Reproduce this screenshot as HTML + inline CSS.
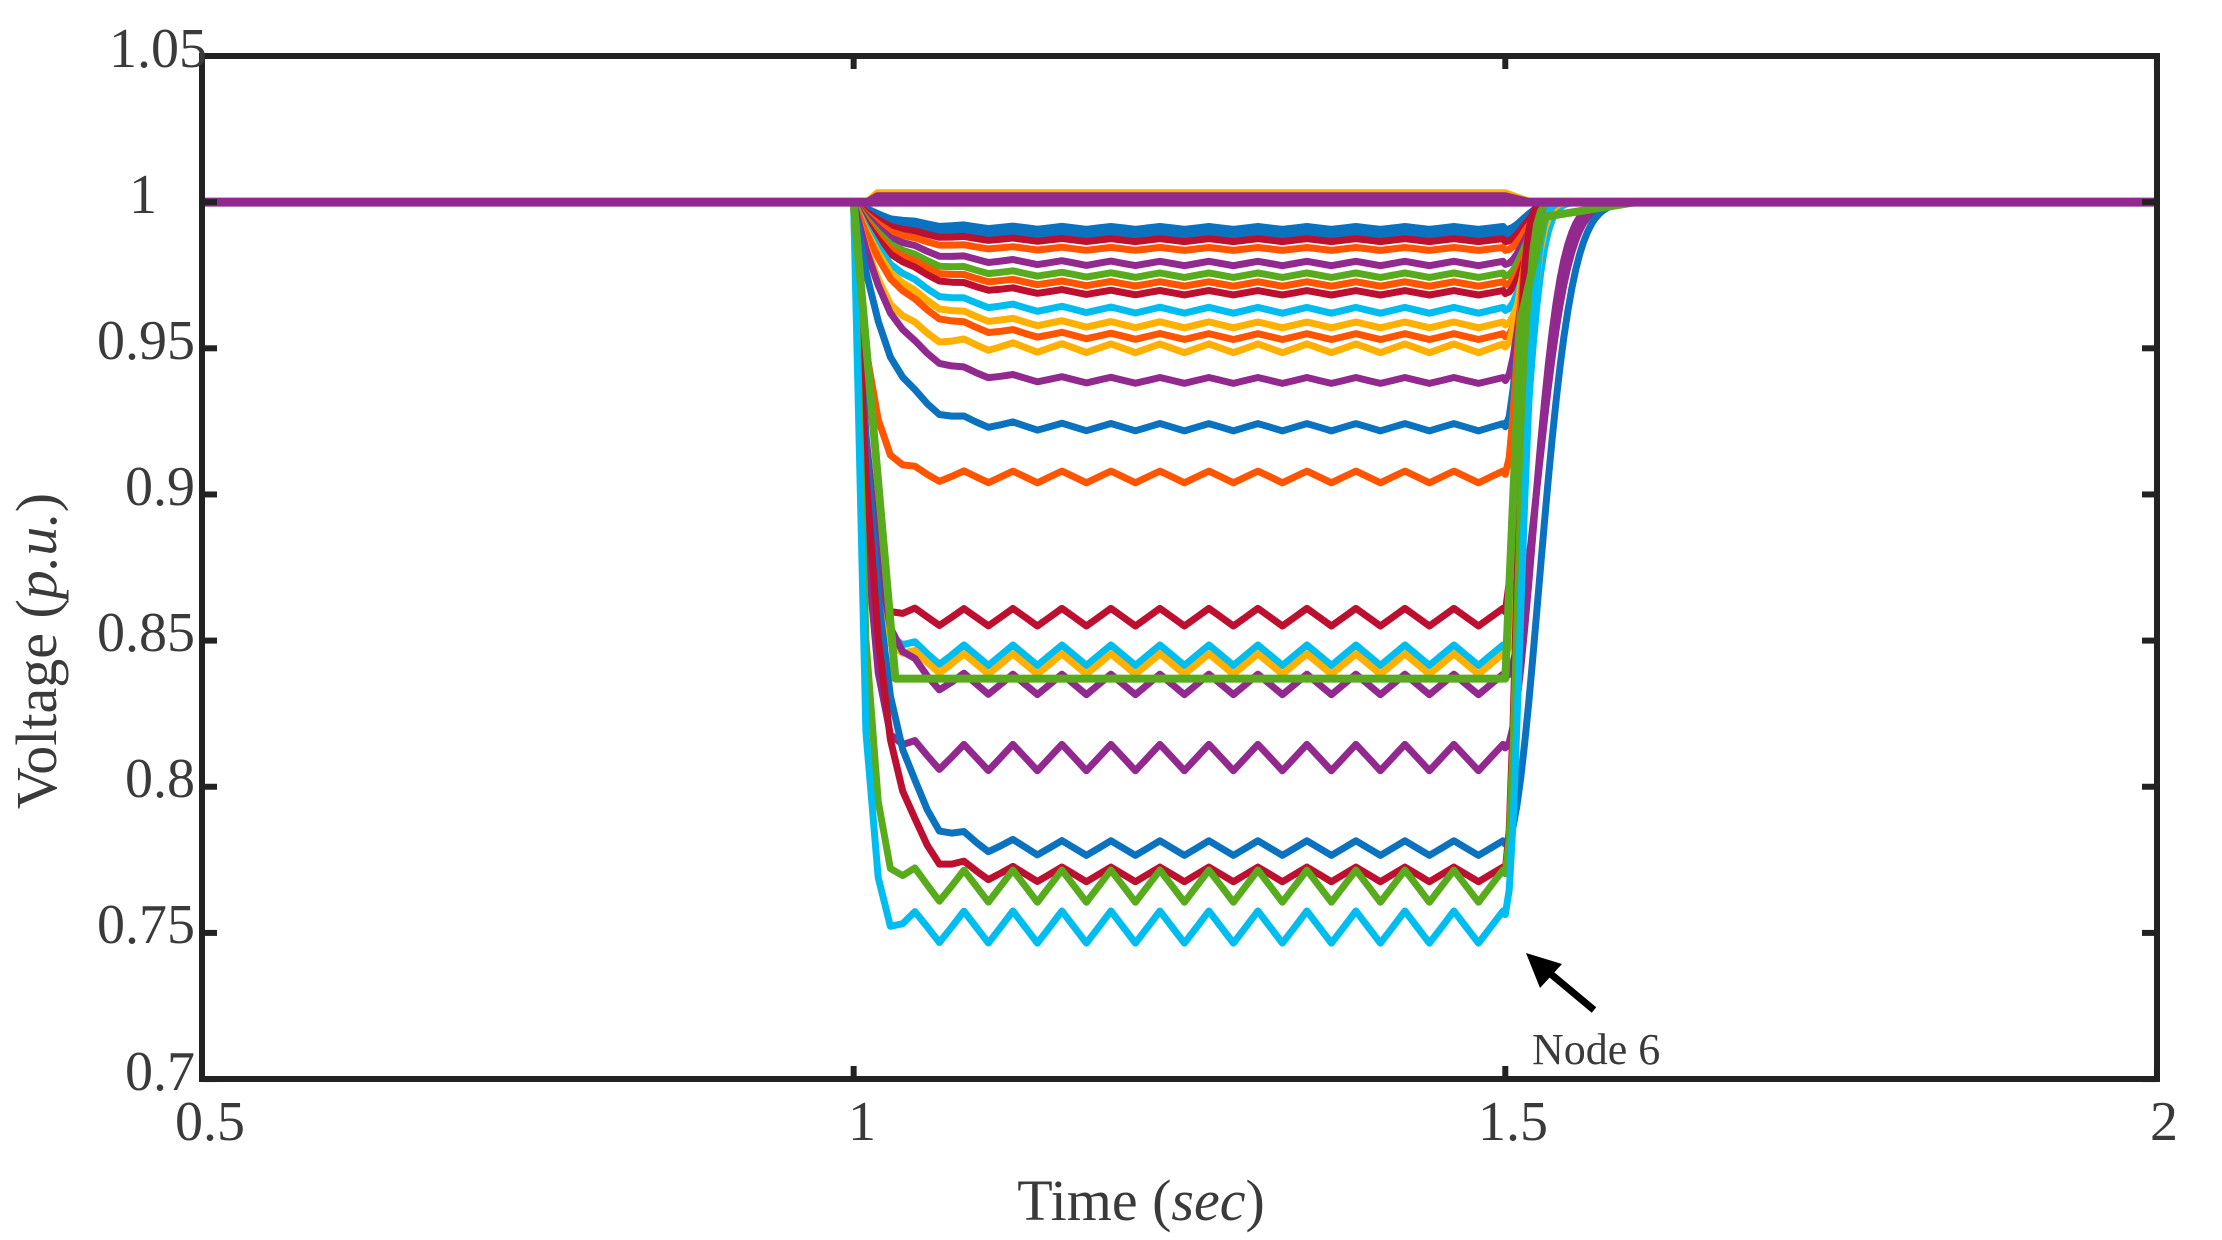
<!DOCTYPE html>
<html><head><meta charset="utf-8"><style>
html,body{margin:0;padding:0;background:#fff;}
svg{display:block;}
text{font-family:"Liberation Serif",serif;fill:#3a3a3a;}
</style></head><body>
<svg id="s" width="2222" height="1240" viewBox="0 0 2222 1240" xmlns="http://www.w3.org/2000/svg">
<defs><clipPath id="c"><rect x="202" y="56" width="1955" height="1023"/></clipPath></defs>
<g id="lines" clip-path="url(#c)" fill="none" stroke-linejoin="round"></g>
<g id="ticks" stroke="#222" stroke-width="6"></g>
<rect x="202" y="56" width="1955" height="1023" fill="none" stroke="#222" stroke-width="6"/>
<g font-size="56">
<text x="207" y="67" text-anchor="end">1.05</text>
<text x="157" y="213" text-anchor="end">1</text>
<text x="195" y="359" text-anchor="end">0.95</text>
<text x="195" y="505" text-anchor="end">0.9</text>
<text x="195" y="651" text-anchor="end">0.85</text>
<text x="195" y="797" text-anchor="end">0.8</text>
<text x="195" y="943" text-anchor="end">0.75</text>
<text x="195" y="1090" text-anchor="end">0.7</text>
<text x="210" y="1140" text-anchor="middle">0.5</text>
<text x="862" y="1140" text-anchor="middle">1</text>
<text x="1513" y="1140" text-anchor="middle">1.5</text>
<text x="2164" y="1140" text-anchor="middle">2</text>
</g>
<text x="1141" y="1220" font-size="58" text-anchor="middle" fill="#111">Time (<tspan font-style="italic">sec</tspan>)</text>
<text transform="translate(56,651) rotate(-90)" font-size="58" text-anchor="middle" fill="#111">Voltage (<tspan font-style="italic">p.u.</tspan>)</text>
<line x1="1594" y1="1010" x2="1546" y2="970" stroke="#000" stroke-width="7"/>
<polygon points="1526,953 1562,964 1540,988" fill="#000"/>
<text x="1532" y="1064" font-size="44" fill="#000">Node 6</text>
</svg>
<script>
var X=t=>202+(t-0.5)*1303.3, Y=v=>56+(1.05-v)*2923;
var tk=document.getElementById('ticks'),h='';
[0.5,1,1.5,2].forEach(t=>{var x=X(t);h+=`<line x1="${x}" y1="1079" x2="${x}" y2="1066"/><line x1="${x}" y1="56" x2="${x}" y2="69"/>`;});
[1.05,1,0.95,0.9,0.85,0.8,0.75,0.7].forEach(v=>{var y=Y(v);h+=`<line x1="202" y1="${y}" x2="217" y2="${y}"/><line x1="2157" y1="${y}" x2="2142" y2="${y}"/>`;});
tk.innerHTML=h;
var B="#0a72bf",O="#ff5500",Yl="#ffb000",P="#92298f",G="#58ab1c",C="#00bdf0",R="#bd0f2f";
var L=[
[0.991,B,0.03,0.001,0.02,8],[0.989,B,0.03,0.001,0.02,7],[0.987,R,0.03,0.001,0.02,7],[0.984,O,0.03,0.001,0.021,7],
[0.979,P,0.035,0.0015,0.021,7],[0.975,G,0.035,0.0015,0.021,7],[0.972,O,0.035,0.0015,0.022,7],[0.969,R,0.035,0.0015,0.022,7],
[0.963,C,0.035,0.002,0.022,7],[0.958,Yl,0.035,0.002,0.022,7],[0.954,O,0.035,0.002,0.022,7],[0.950,Yl,0.025,0.003,0.016,7],
[0.939,P,0.03,0.002,0.016,7],[0.923,B,0.025,0.0025,0.014,7],[0.906,O,0.012,0.004,0.012,7],
[0.858,R,0.008,0.006,0.011,7],[0.845,C,0.01,0.007,0.02,7],[0.842,Yl,0.01,0.007,0.018,7],[0.835,P,0.014,0.007,0.034,7],
[0.81,P,0.01,0.009,0.03,7],[0.779,B,0.02,0.005,0.036,7],[0.770,R,0.018,0.005,0.012,7],[0.766,G,0.009,0.011,0.013,7],
[0.752,C,0.007,0.011,0.016,7]];
var g=document.getElementById('lines'),s='';
var Per=0.0376,dt=Per/4;
L.forEach(c=>{var lv=c[0],d=1-lv,td=c[2],a=c[3]/2,tr=c[4];
var pts=[[0.5,1],[1.0,1]],t,v,end;
for(t=1.0+dt;t<1.5;t+=dt){v=lv+d*Math.exp(-(t-1)/td)+a*Math.sin(2*Math.PI*(t-1.047)/Per+Math.PI/2)*(1-Math.exp(-(t-1)/0.02));pts.push([t,v]);}
end=lv+a*Math.sin(2*Math.PI*(1.5-1.047)/Per+Math.PI/2)-0.001;pts.push([1.5,end]);
for(t=1.5+0.003;t<1.75;t+=0.003){v=1-(1-end)*Math.exp(-Math.pow((t-1.5)/tr,2));pts.push([t,v]);}
pts.push([2.0,1]);
s+=`<polyline stroke="${c[1]}" stroke-width="${c[5]}" points="${pts.map(p=>X(p[0]).toFixed(1)+','+Y(p[1]).toFixed(1)).join(' ')}"/>`;
});
s+=`<polyline stroke="${G}" stroke-width="8" points="${X(1)},${Y(1)} ${X(1.032)},${Y(0.837)} ${X(1.5)},${Y(0.837)} ${X(1.512)},${Y(0.96)} ${X(1.53)},${Y(0.995)} ${X(1.6)},${Y(1)}"/>`;
s+=`<polyline stroke="${Yl}" stroke-width="7" points="${X(0.5)},${Y(1)} ${X(1.01)},${Y(1)} ${X(1.018)},${Y(1.0032)} ${X(1.5)},${Y(1.0032)} ${X(1.52)},${Y(1)} ${X(2)},${Y(1)}"/>`;
s+=`<polyline stroke="${P}" stroke-width="7" points="${X(1.01)},${Y(1)} ${X(1.018)},${Y(1.0022)} ${X(1.5)},${Y(1.0022)} ${X(1.52)},${Y(1)}"/>`;
s+=`<polyline stroke="${P}" stroke-width="9" points="${X(0.5)},${Y(1)} ${X(2)},${Y(1)}"/>`;
g.innerHTML=s;
</script>
</body></html>
